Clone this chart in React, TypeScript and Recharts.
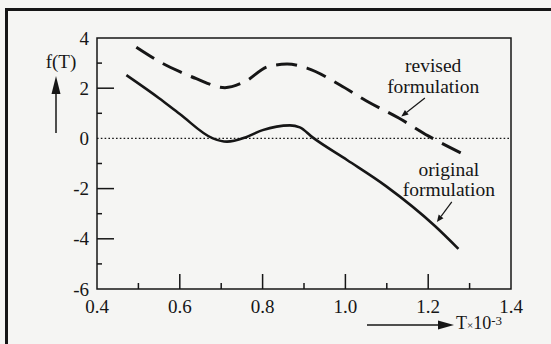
import React from "react";
import { LineChart, Line, XAxis, YAxis, ReferenceLine, ReferenceArea, ReferenceDot } from "recharts";

const T_ORIGINAL = [0.471, 0.55, 0.6, 0.68, 0.714, 0.76, 0.8, 0.866, 0.89, 0.92, 1.004, 1.098, 1.217, 1.273];
const F_ORIGINAL = [2.52, 1.6, 0.97, 0.0, -0.13, 0.05, 0.33, 0.52, 0.44, 0.05, -0.86, -1.9, -3.5, -4.4];

const T_REVISED = [0.495, 0.555, 0.6, 0.64, 0.709, 0.757, 0.813, 0.859, 0.907, 0.987, 1.05, 1.13, 1.2, 1.3];
const F_REVISED = [3.63, 3.02, 2.66, 2.38, 2.02, 2.26, 2.86, 2.96, 2.8, 2.13, 1.5, 0.8, 0.1, -0.75];

const X_TICKS = [0.4, 0.5, 0.6, 0.7, 0.8, 0.9, 1.0, 1.1, 1.2, 1.3, 1.4];
const Y_TICKS = [-6, -5, -4, -3, -2, -1, 0, 1, 2, 3, 4];

const original = T_ORIGINAL.map((x, i) => ({ x, y: F_ORIGINAL[i] }));
const revised = T_REVISED.map((x, i) => ({ x, y: F_REVISED[i] }));

const INK = "#161616";
const FONT = "Liberation Serif, Times New Roman, DejaVu Serif, serif";
const TXT = { fontFamily: FONT };

const XTick = (props: any) => {
  const { x, y, payload } = props;
  const idx = Math.round(payload.value * 10);
  const isEnd = idx === 4 || idx === 14;
  const major = idx % 2 === 0;
  const len = isEnd ? 0 : major ? 15 : 6;
  return (
    <g>
      {len > 0 && <line x1={x} y1={y} x2={x} y2={y - len} stroke={INK} strokeWidth={1.5} />}
      {major && (
        <text x={x} y={y + 24} textAnchor="middle" style={TXT} fontSize={19} fill={INK}>
          {payload.value.toFixed(1)}
        </text>
      )}
    </g>
  );
};

const YTick = (props: any) => {
  const { x, y, payload } = props;
  const v = payload.value;
  const isEnd = v === 4 || v === -6 || v === 0;
  const major = v % 2 === 0;
  const len = isEnd ? 0 : major ? 17 : 5;
  return (
    <g>
      {len > 0 && <line x1={x} y1={y} x2={x + len} y2={y} stroke={INK} strokeWidth={1.5} />}
      {major && (
        <text x={x - 8} y={y + 6.5} textAnchor="end" style={TXT} fontSize={19} fill={INK}>
          {v}
        </text>
      )}
    </g>
  );
};

const Arrow = (props: any) => {
  const { x1, y1, x2, y2 } = props;
  const ang = Math.atan2(y2 - y1, x2 - x1);
  const L = 7;
  const W = 3;
  const bx = x2 - L * Math.cos(ang);
  const by = y2 - L * Math.sin(ang);
  const px = -Math.sin(ang) * W;
  const py = Math.cos(ang) * W;
  return (
    <g>
      <line x1={x1} y1={y1} x2={bx} y2={by} stroke={INK} strokeWidth={1.2} />
      <polygon points={`${x2},${y2} ${bx + px},${by + py} ${bx - px},${by - py}`} fill={INK} />
    </g>
  );
};

const makeText = (label: string) => (props: any) => (
  <text x={props.cx} y={props.cy} textAnchor="middle" style={TXT} fontSize={19.5} fill={INK}>
    {label}
  </text>
);

const YLabel = (props: any) => {
  const vb = props.viewBox || { x: 96, y: 38, width: 1 };
  const left = vb.x + (vb.width || 0);
  const ax = left - 41;
  const top = vb.y;
  return (
    <g>
      <text x={left - 36} y={top + 30} textAnchor="middle" style={TXT} fontSize={19} fill={INK}>
        f(T)
      </text>
      <line x1={ax} y1={top + 95} x2={ax} y2={top + 52} stroke={INK} strokeWidth={1.5} />
      <polygon points={`${ax},${top + 38} ${ax - 4.5},${top + 56} ${ax + 4.5},${top + 56}`} fill={INK} />
    </g>
  );
};

const XLabel = (props: any) => {
  const vb = props.viewBox || { x: 97, y: 289 };
  const ay = vb.y + 36;
  const x0 = vb.x + 270;
  const tip = vb.x + 357;
  return (
    <g>
      <line x1={x0} y1={ay} x2={tip - 12} y2={ay} stroke={INK} strokeWidth={1.5} />
      <polygon points={`${tip},${ay} ${tip - 16},${ay - 4.5} ${tip - 16},${ay + 4.5}`} fill={INK} />
      <text x={tip + 2} y={ay + 4} style={TXT} fontSize={18} fill={INK}>
        <tspan>T</tspan>
        <tspan fontSize={11}>×</tspan>
        <tspan>10</tspan>
        <tspan fontSize={13} dy={-4}>-3</tspan>
      </text>
    </g>
  );
};

export default function App() {
  return (
    <div
      style={{
        position: "absolute",
        left: 0,
        top: 0,
        width: 551,
        height: 344,
        overflow: "hidden",
        background: "#f5f5f3",
      }}
    >
      <div
        style={{
          position: "absolute",
          left: 5,
          top: 8,
          width: 600,
          height: 400,
          borderTop: `3.5px solid ${INK}`,
          borderLeft: `3.5px solid ${INK}`,
        }}
      />
      <div style={{ position: "absolute", left: 0, top: 0 }}>
        <LineChart width={551} height={344} margin={{ top: 38, right: 40, bottom: 54, left: 96 }}>
          <XAxis
            dataKey="x"
            type="number"
            domain={[0.4, 1.4]}
            ticks={X_TICKS}
            interval={0}
            height={1}
            tickSize={0}
            tickMargin={0}
            tickLine={false}
            axisLine={false}
            tick={<XTick />}
            allowDataOverflow
            label={{ content: <XLabel /> }}
          />
          <YAxis
            type="number"
            domain={[-6, 4]}
            ticks={Y_TICKS}
            interval={0}
            width={1}
            tickSize={0}
            tickMargin={0}
            tickLine={false}
            axisLine={false}
            tick={<YTick />}
            allowDataOverflow
            label={{ content: <YLabel /> }}
          />
          <ReferenceArea x1={0.4} x2={1.4} y1={-6} y2={4} fill="none" stroke={INK} strokeWidth={1.5} ifOverflow="visible" />
          <ReferenceLine y={0} stroke={INK} strokeWidth={1.3} strokeDasharray="1.6 2.2" />
          <Line
            data={original}
            dataKey="y"
            type="monotone"
            stroke={INK}
            strokeWidth={2.6}
            dot={false}
            activeDot={false}
            isAnimationActive={false}
          />
          <Line
            data={revised}
            dataKey="y"
            type="monotone"
            stroke={INK}
            strokeWidth={3}
            strokeDasharray="21 10"
            dot={false}
            activeDot={false}
            isAnimationActive={false}
          />
          <ReferenceDot x={1.212} y={2.63} r={0} shape={makeText("revised")} ifOverflow="visible" />
          <ReferenceDot x={1.212} y={1.81} r={0} shape={makeText("formulation")} ifOverflow="visible" />
          <ReferenceDot x={1.25} y={-1.5} r={0} shape={makeText("original")} ifOverflow="visible" />
          <ReferenceDot x={1.25} y={-2.3} r={0} shape={makeText("formulation")} ifOverflow="visible" />
          <ReferenceLine segment={[{ x: 1.192, y: 1.61 }, { x: 1.135, y: 0.87 }]} shape={<Arrow />} ifOverflow="visible" />
          <ReferenceLine segment={[{ x: 1.257, y: -2.53 }, { x: 1.221, y: -3.33 }]} shape={<Arrow />} ifOverflow="visible" />
        </LineChart>
      </div>
    </div>
  );
}
